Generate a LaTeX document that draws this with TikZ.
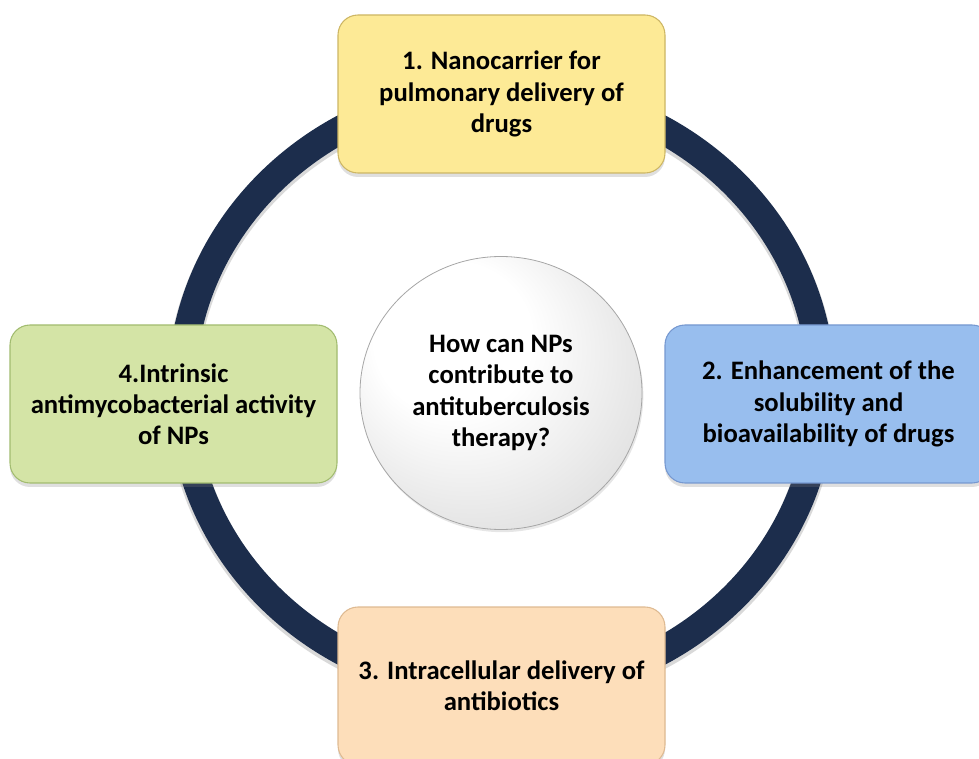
\documentclass[tikz,border=0pt]{standalone}
\usepackage{fontspec}
\setmainfont{Carlito}
\usetikzlibrary{shapes.geometric,shadows}

\definecolor{ringnavy}{RGB}{28,45,76}
\definecolor{nanofill}{RGB}{253,234,150}
\definecolor{nanoedge}{RGB}{205,182,100}
\definecolor{solubfill}{RGB}{152,190,238}
\definecolor{solubedge}{RGB}{118,152,208}
\definecolor{intrafill}{RGB}{253,222,186}
\definecolor{intraedge}{RGB}{222,186,146}
\definecolor{intrinfill}{RGB}{212,228,166}
\definecolor{intrinedge}{RGB}{162,188,112}

\pgfdeclareradialshading{hubshade}{\pgfpoint{-12bp}{14bp}}{%
  color(0bp)=(white); color(14bp)=(white); color(38bp)=(black!15); color(50bp)=(black!25)}

\begin{document}
\begin{tikzpicture}[x=0.75pt,y=0.75pt]
   \tikzstyle{every node}=[font=\bfseries\fontsize{20}{23.4}\selectfont, align=center, text=black]
   \tikzstyle{topic}=[draw, line width=0.8pt, rounded corners=15pt, minimum width=245.25pt, minimum height=118.5pt, drop shadow={shadow xshift=0pt, shadow yshift=-3pt, opacity=0.25}]
   \tikzstyle{hub}=[ellipse, draw=black!35, line width=0.6pt, shading=hubshade, minimum width=211.5pt, minimum height=204.75pt, drop shadow={shadow xshift=1pt, shadow yshift=-2pt, opacity=0.2}]
   \tikzstyle{ringline}=[ringnavy, line width=21pt]

\clip (0,0) rectangle (979,758);

% the cycle behind the boxes
\coordinate (ringc) at (501.5,368);
\draw[black, opacity=0.15, line width=23pt] ([yshift=-2]ringc) ellipse [x radius=320, y radius=301];
\draw[ringline] (ringc) ellipse [x radius=320, y radius=301];

\node[hub] (hub) at (501,365) {How can NPs\\contribute to\\antituberculosis\\therapy?};

\node[topic, fill=nanofill, draw=nanoedge] (nano) at (501.5,664) {1. Nanocarrier for\\pulmonary delivery of\\drugs};
\node[topic, fill=solubfill, draw=solubedge] (solub) at (828.5,354) {2. Enhancement of the\\solubility and\\bioavailability of drugs};
\node[topic, fill=intrafill, draw=intraedge] (intra) at (501.5,72) {3. Intracellular delivery of\\antibiotics};
\node[topic, fill=intrinfill, draw=intrinedge] (intrin) at (173.5,354) {4.Intrinsic\\antimycobacterial activity\\of NPs};

\end{tikzpicture}
\end{document}
